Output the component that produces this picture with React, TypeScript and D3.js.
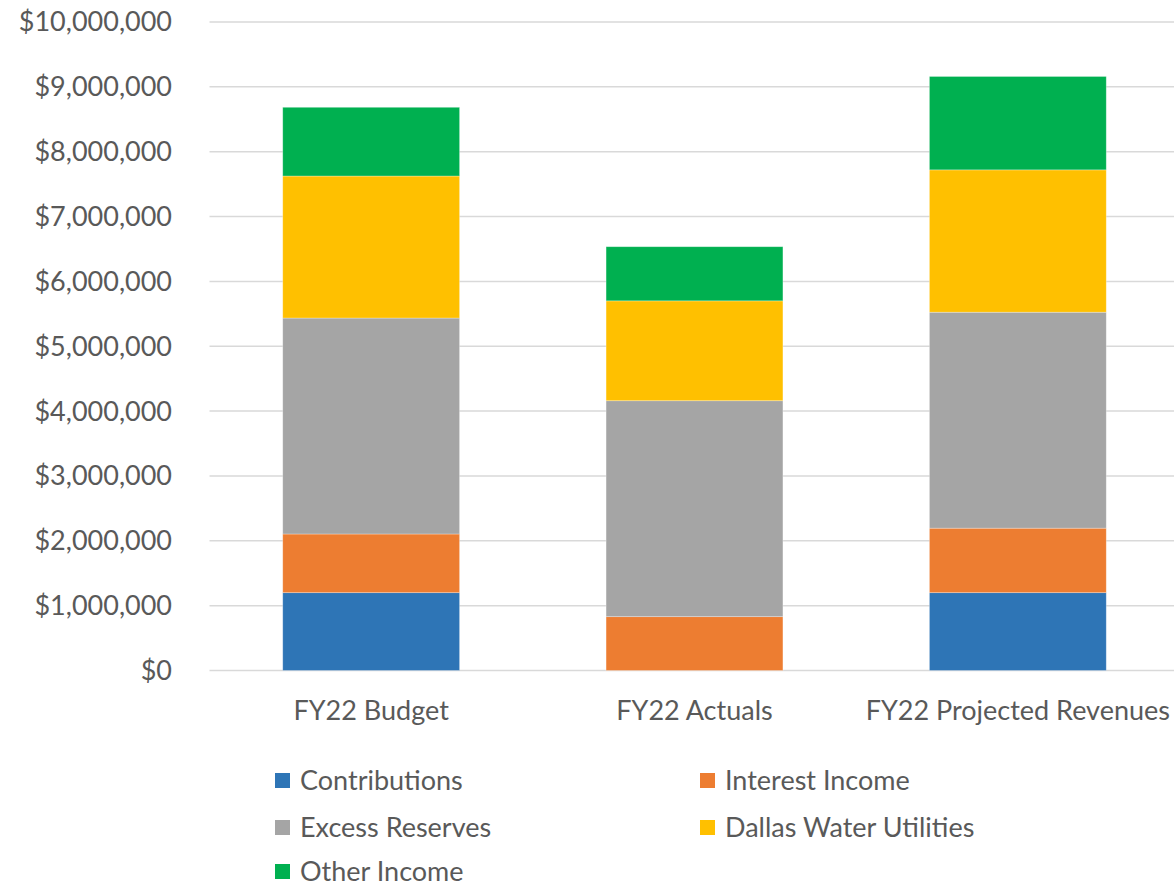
import React from "react";
import * as d3 from "d3";

const categories = ["FY22 Budget", "FY22 Actuals", "FY22 Projected Revenues"];
const seriesNames = ["Contributions", "Interest Income", "Excess Reserves", "Dallas Water Utilities", "Other Income"];
const contributions = [1200000, 0, 1200000];
const interestIncome = [905000, 830000, 995000];
const excessReserves = [3330000, 3330000, 3330000];
const dallasWaterUtilities = [2190000, 1540000, 2195000];
const otherIncome = [1060000, 835000, 1440000];
const colors = ["#2E75B6", "#ED7D31", "#A5A5A5", "#FFC000", "#00B050"];
const yTicks = [0, 1000000, 2000000, 3000000, 4000000, 5000000, 6000000, 7000000, 8000000, 9000000, 10000000];

const W = 1174;
const H = 886;
const FONT = "Lato, 'Open Sans', sans-serif";
const FS = 27;

export default function App() {
  const values = [contributions, interestIncome, excessReserves, dallasWaterUtilities, otherIncome];
  const rows = categories.map((c, i) => {
    const r: any = { cat: c };
    seriesNames.forEach((s, j) => (r[s] = values[j][i]));
    return r;
  });
  const stack = d3.stack<any>().keys(seriesNames)(rows);

  const x = d3.scaleBand().domain(categories).range([209.5, 1179.5]).paddingInner(0.453).paddingOuter(0.2265);
  const y = d3.scaleLinear().domain([0, 10000000]).range([670.5, 22]);
  const fmt = (v: number) => "$" + d3.format(",")(v);

  const legend = [
    { name: seriesNames[0], c: colors[0], x: 275, y: 781 },
    { name: seriesNames[1], c: colors[1], x: 700, y: 781 },
    { name: seriesNames[2], c: colors[2], x: 275, y: 828 },
    { name: seriesNames[3], c: colors[3], x: 700, y: 828 },
    { name: seriesNames[4], c: colors[4], x: 275, y: 872 },
  ];

  return (
    <svg width={W} height={H} style={{ position: "absolute", left: 0, top: 0, background: "#fff" }}>
      <rect x={0} y={0} width={W} height={H} fill="#fff" />
      {yTicks.map((t) => (
        <g key={t}>
          <line x1={209.5} x2={W} y1={y(t)} y2={y(t)} stroke="#D9D9D9" strokeWidth={1.5} />
          <text x={172} y={y(t)} dy="0.35em" textAnchor="end" fontFamily={FONT} fontSize={FS} fill="#595959">
            {fmt(t)}
          </text>
        </g>
      ))}
      {stack.map((layer, j) => (
        <g key={layer.key} fill={colors[j]}>
          {layer.map((d, i) =>
            d[1] - d[0] > 0 ? (
              <rect
                key={i}
                x={x(categories[i])!}
                width={x.bandwidth()}
                y={y(d[1])}
                height={y(d[0]) - y(d[1])}
                stroke="#ffffff"
                strokeOpacity={0.4}
                strokeWidth={0.75}
              />
            ) : null
          )}
        </g>
      ))}
      {categories.map((c) => (
        <text
          key={c}
          x={x(c)! + x.bandwidth() / 2}
          y={720}
          textAnchor="middle"
          fontFamily={FONT}
          fontSize={FS}
          fill="#595959"
        >
          {c}
        </text>
      ))}
      {legend.map((l) => (
        <g key={l.name}>
          <rect x={l.x} y={l.y - 8} width={15} height={15} fill={l.c} />
          <text x={l.x + 25} y={l.y} dy="0.35em" fontFamily={FONT} fontSize={FS} fill="#595959">
            {l.name}
          </text>
        </g>
      ))}
    </svg>
  );
}
